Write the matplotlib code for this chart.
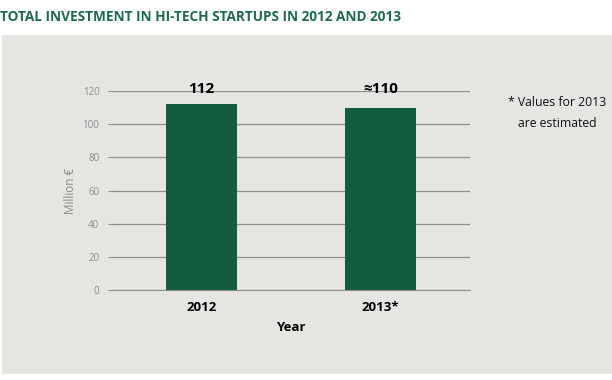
import matplotlib.pyplot as plt
from matplotlib.patches import Rectangle

years = ["2012", "2013*"]
values = [112, 110]
labels = ["112", "≈110"]
yticks = [0, 20, 40, 60, 80, 100, 120]

fonts = ["Liberation Sans Narrow", "Open Sans", "DejaVu Sans"]
plt.rcParams["font.family"] = fonts

fig = plt.figure(figsize=(6.12, 3.8), dpi=100)
fig.patch.set_facecolor("white")

# grauer Kasten hinter dem Diagramm
fig.patches.append(Rectangle((2 / 612, 6 / 380), 610 / 612, 339 / 380,
                             transform=fig.transFigure, facecolor="#e6e5e1",
                             edgecolor="none", zorder=-5))

fig.text(0.0, 0.955, "TOTAL INVESTMENT IN HI-TECH STARTUPS IN 2012 AND 2013",
         color="#1d6b4b", fontsize=9.8, fontweight="bold", va="center", ha="left")

ax = fig.add_axes([112 / 612, 90 / 380, 358 / 612, 199 / 380], zorder=2)
ax.set_facecolor("none")
x = range(len(years))
ax.bar(x, values, width=0.4, color="#145c3e", zorder=3)
ax.set_xlim(-0.5, 1.5)
ax.set_ylim(0, 120)
ax.set_yticks(yticks)
ax.yaxis.grid(True, color="#8e8e8c", linewidth=0.9)
ax.set_axisbelow(True)
for s in ["top", "right", "left"]:
    ax.spines[s].set_visible(False)
ax.spines["bottom"].set_color("#8e8e8c")
ax.tick_params(axis="y", length=3, color="#8e8e8c", labelcolor="#8a8a8a",
               labelsize=7, pad=6)
ax.tick_params(axis="x", length=0, labelsize=9.5, pad=8)
ax.set_xticks(list(x))
ax.set_xticklabels(years, fontweight="bold")
ax.set_xlabel("Year", fontsize=9.5, fontweight="bold", labelpad=5)
ax.set_ylabel("Million €", fontsize=8.5, color="#8a8a8a", labelpad=4)

for i, v in enumerate(values):
    ax.text(i, 121, labels[i], ha="center", va="center", fontsize=11,
            fontweight="bold", clip_on=False, zorder=4)

fig.text(557 / 612, 1 - 113 / 380, "* Values for 2013\nare estimated",
         ha="center", va="center", fontsize=8.8, linespacing=1.8, color="#111111")

fig.savefig("out.png", dpi=100)
